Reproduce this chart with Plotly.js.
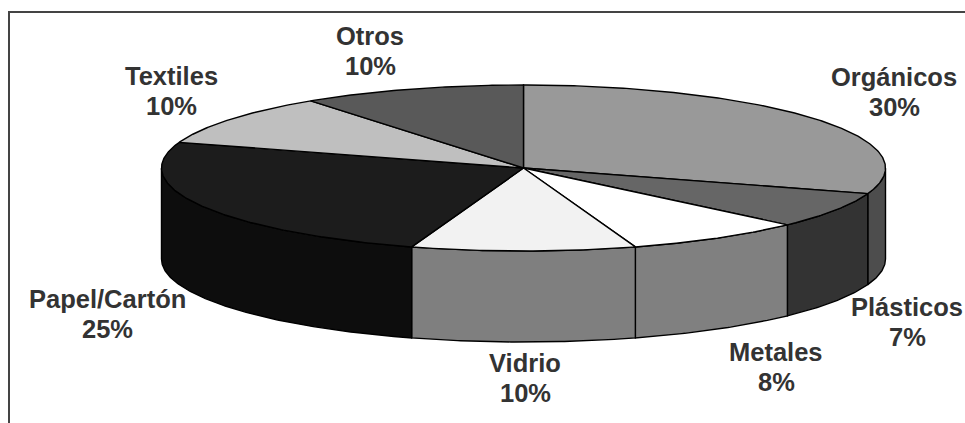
<!DOCTYPE html>
<html>
<head>
<meta charset="utf-8">
<script src="https://cdn.plot.ly/plotly-3.0.1.min.js"></script>
<style>html,body{margin:0;padding:0;background:#fff}#c{width:965px;height:423px}</style>
</head>
<body>
<div id="c"></div>
<script>
const categories = ["Orgánicos", "Plásticos", "Metales", "Vidrio", "Papel/Cartón", "Textiles", "Otros"];
const shares = [30, 7, 8, 10, 25, 10, 10];
const topColors = ["#999999", "#666666", "#ffffff", "#f2f2f2", "#1c1c1c", "#bfbfbf", "#595959"];
const sideColors = ["#4d4d4d", "#333333", "#808080", "#7f7f7f", "#0d0d0d", "#444444", "#444444"];
const labelX = [894, 907, 776, 525, 107, 171, 370];
const labelY = [77, 307, 352, 363, 299, 76, 36];

const cx = 523.5, cy = 168, rx = 362, ry = 83, depth = 91;
const lineGap = 30;

function px(a) { return cx + rx * Math.sin(a * Math.PI / 180); }
function py(a, d) { return cy - ry * Math.cos(a * Math.PI / 180) + (d || 0); }
function arc(a0, a1) {
  const n = Math.max(2, Math.ceil(Math.abs(a1 - a0) * 2));
  const out = [];
  for (let i = 0; i <= n; i++) out.push(a0 + (a1 - a0) * i / n);
  return out;
}

const traces = [];
const outline = { color: "#000000", width: 1.4 };
let start = 0;
const tops = [];
shares.forEach((v, i) => {
  const end = start + v * 3.6;
  const a0 = Math.max(start, 90), a1 = Math.min(end, 270);
  if (a1 > a0) {
    const as = arc(a0, a1);
    const xs = as.map(px).concat(as.slice().reverse().map(px));
    const ys = as.map(a => py(a, 0)).concat(as.slice().reverse().map(a => py(a, depth)));
    xs.push(xs[0]); ys.push(ys[0]);
    traces.push({ type: "scatter", mode: "lines", x: xs, y: ys, fill: "toself",
      fillcolor: sideColors[i], line: outline, hoverinfo: "skip", showlegend: false });
  }
  const as = arc(start, end);
  tops.push({ type: "scatter", mode: "lines",
    x: [cx].concat(as.map(px), [cx]), y: [cy].concat(as.map(a => py(a, 0)), [cy]),
    fill: "toself", fillcolor: topColors[i], line: outline,
    name: categories[i], text: v + "%", hoverinfo: "name+text", showlegend: false });
  start = end;
});

const annotations = [];
const font = { family: "Liberation Sans, Arial, sans-serif", size: 25.5, color: "#333333" };
categories.forEach((c, i) => {
  annotations.push({ x: labelX[i], y: labelY[i], xref: "x", yref: "y", text: "<b>" + c + "</b>",
    showarrow: false, xanchor: "center", yanchor: "middle", font: font });
  annotations.push({ x: labelX[i], y: labelY[i] + lineGap, xref: "x", yref: "y", text: "<b>" + shares[i] + "%</b>",
    showarrow: false, xanchor: "center", yanchor: "middle", font: font });
});

const layout = {
  width: 965, height: 423,
  margin: { l: 0, r: 0, t: 0, b: 0 },
  paper_bgcolor: "#ffffff", plot_bgcolor: "#ffffff",
  showlegend: false,
  xaxis: { range: [0, 965], visible: false, fixedrange: true },
  yaxis: { range: [423, 0], visible: false, fixedrange: true },
  shapes: [{ type: "path", xref: "x", yref: "y", path: "M 9 423 L 9 12 L 965 12",
    line: { color: "#444444", width: 2 } }],
  annotations: annotations
};
Plotly.newPlot("c", traces.concat(tops), layout, { displayModeBar: false });
</script>
</body>
</html>
